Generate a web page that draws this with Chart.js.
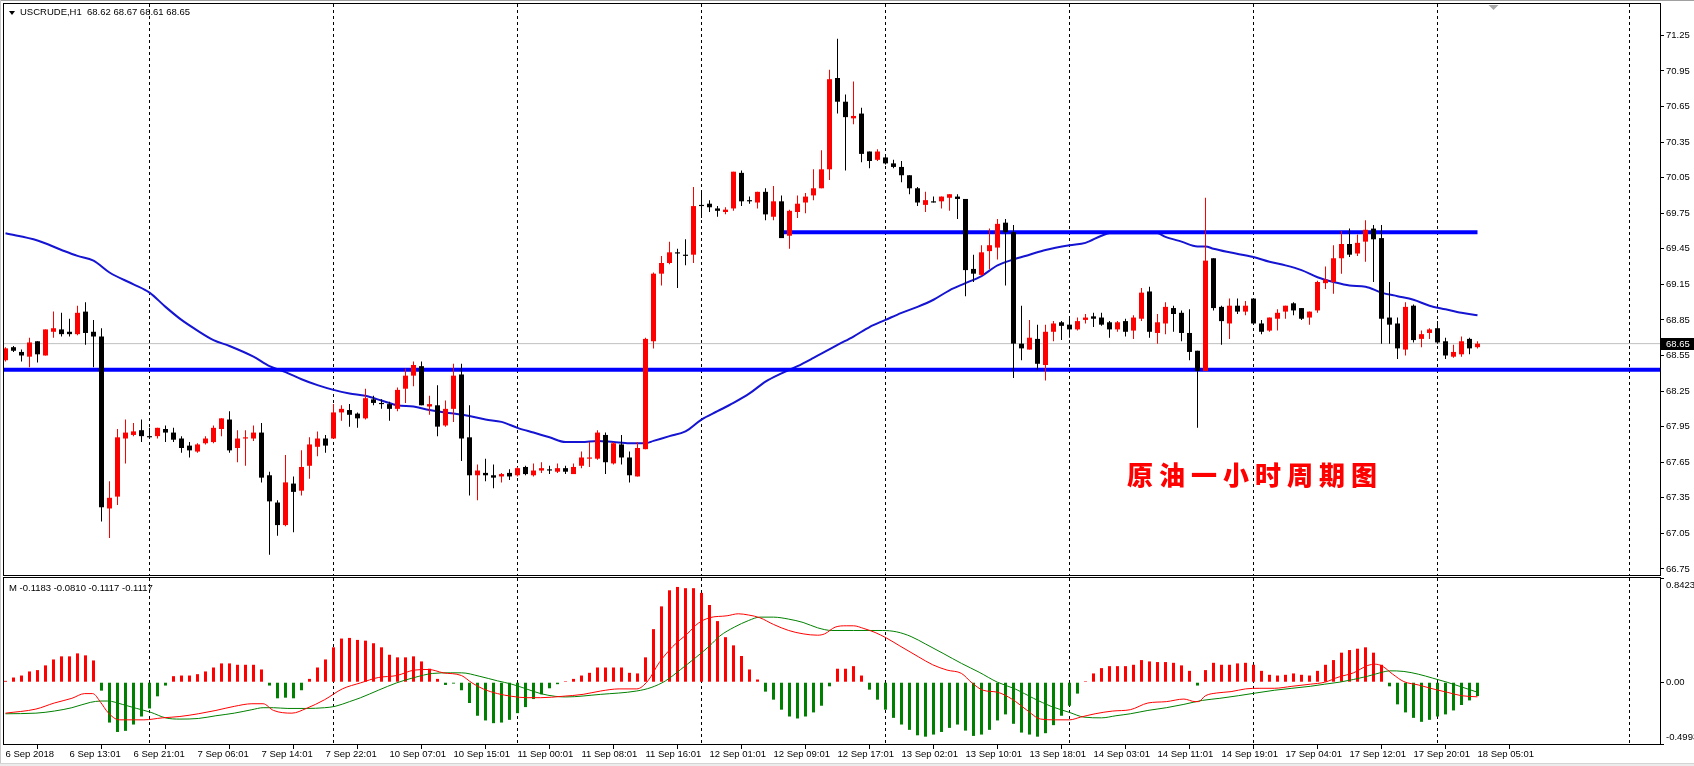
<!DOCTYPE html>
<html>
<head>
<meta charset="utf-8">
<script src="https://cdn.jsdelivr.net/npm/chart.js@4.4.0/dist/chart.umd.min.js"></script>
<style>
    body { margin: 0; width: 1694px; height: 766px; overflow: hidden; position: relative; background: #fff; font-family: "Liberation Sans", Arial, sans-serif; }
    canvas { position: absolute; left: 0; top: 0; }
    .hdr { position: absolute; font-size: 9.5px; line-height: 10px; color: #000; white-space: pre; }
    #winTop { position: absolute; left: 0; top: 0; width: 1694px; height: 1px; background: #a0a0a0; }
    #winLeft { position: absolute; left: 0; top: 0; width: 1px; height: 766px; background: #c8c8c8; }
    #winBottom { position: absolute; left: 0; top: 763px; width: 1694px; height: 3px; background: #ececec; border-top: 1px solid #d4d4d4; }
    #tri { position: absolute; left: 9px; top: 11px; width: 0; height: 0; border-left: 3.5px solid transparent; border-right: 3.5px solid transparent; border-top: 4px solid #000; }
    #note { position: absolute; left: 1127px; top: 461px; font-family: "Noto Sans CJK SC", sans-serif; font-weight: 900; font-size: 26px; line-height: 26px; letter-spacing: 6px; color: #ff0000; white-space: nowrap; }
</style>
</head>
<body>
<div id="winTop"></div>
<div id="winLeft"></div>
<div id="winBottom"></div>
<canvas id="priceChart" width="1694" height="766"></canvas>
<canvas id="macdChart" width="1694" height="766"></canvas>
<div id="tri"></div>
<div id="priceHeader" class="hdr" style="left:20px;top:7px;"></div>
<div id="macdHeader" class="hdr" style="left:9px;top:583px;"></div>
<div id="note">原油一小时周期图</div>
<script>
// --- data ---
const symbolName = "USCRUDE";
const timeframe = "H1";

const timeLabels = ["6 Sep 2018", "6 Sep 13:01", "6 Sep 21:01", "7 Sep 06:01", "7 Sep 14:01", "7 Sep 22:01",
    "10 Sep 07:01", "10 Sep 15:01", "11 Sep 00:01", "11 Sep 08:01", "11 Sep 16:01", "12 Sep 01:01",
    "12 Sep 09:01", "12 Sep 17:01", "13 Sep 02:01", "13 Sep 10:01", "13 Sep 18:01", "14 Sep 03:01",
    "14 Sep 11:01", "14 Sep 19:01", "17 Sep 04:01", "17 Sep 12:01", "17 Sep 20:01", "18 Sep 05:01"];

const openPrices = [
    68.51,68.62,68.58,68.54,68.67,68.55,68.75,68.77,68.75,68.73,
    68.92,68.75,68.71,67.26,67.36,67.85,67.88,67.92,67.87,67.87,
    67.93,67.90,67.85,67.79,67.74,67.81,67.82,67.93,68.01,67.77,
    67.85,67.85,67.90,67.54,67.31,67.12,67.47,67.41,67.62,67.78,
    67.85,67.85,68.07,68.09,68.06,68.02,68.18,68.15,68.14,68.10,
    68.27,68.38,68.46,68.12,68.13,67.96,68.10,68.39,67.86,67.54,
    67.56,67.54,67.53,67.56,67.54,67.61,67.54,67.58,67.59,67.57,
    67.60,67.55,67.62,67.68,67.68,67.88,67.64,67.80,67.69,67.53,
    67.76,68.67,69.24,69.33,69.42,69.40,69.40,69.82,69.83,69.79,
    69.76,69.79,70.09,69.86,69.84,69.93,69.72,69.85,69.56,69.76,
    69.84,69.90,69.96,70.12,70.89,70.69,70.55,70.59,70.27,70.20,
    70.22,70.17,70.14,70.07,69.96,69.82,69.85,69.85,69.88,69.89,
    69.87,69.28,69.23,69.43,69.46,69.67,69.59,68.65,68.60,68.69,
    68.47,68.75,68.83,68.81,68.77,68.85,68.88,68.87,68.83,68.77,
    68.84,68.76,68.86,69.09,68.74,68.82,68.95,68.91,68.74,68.59,
    68.42,69.37,68.96,68.82,68.97,68.92,69.03,68.82,68.76,68.86,
    68.92,68.99,68.95,68.87,68.93,69.16,69.17,69.37,69.49,69.41,
    69.51,69.62,69.54,68.87,68.82,68.60,68.97,68.69,68.74,68.78,
    68.67,68.54,68.56,68.69,68.62];
const highPrices = [
    68.62,68.63,68.60,68.70,68.67,68.77,68.92,68.91,68.86,68.97,
    69.00,68.85,68.78,67.49,67.93,68.01,67.98,68.01,67.94,67.94,
    67.96,67.94,67.87,67.82,67.81,67.87,67.96,68.02,68.08,67.92,
    67.92,67.96,67.98,67.57,67.33,67.71,67.53,67.75,67.86,67.91,
    67.88,68.14,68.13,68.14,68.07,68.27,68.21,68.18,68.16,68.28,
    68.44,68.50,68.50,68.21,68.30,68.17,68.48,68.48,68.13,67.63,
    67.68,67.63,67.56,67.59,67.61,67.62,67.64,67.65,67.62,67.64,
    67.62,67.64,67.74,67.82,67.92,67.90,67.82,67.88,67.74,67.82,
    68.70,69.25,69.39,69.51,69.45,69.53,69.97,69.92,69.86,69.81,
    69.80,70.10,70.11,69.89,69.93,69.96,69.98,69.90,69.78,69.90,
    69.92,70.12,70.28,70.96,71.22,70.75,70.86,70.64,70.27,70.29,
    70.23,70.20,70.19,70.07,69.97,69.93,69.89,69.89,69.91,69.91,
    69.87,69.40,69.48,69.62,69.70,69.70,69.65,68.97,68.85,68.81,
    68.81,68.84,68.84,68.86,68.87,68.90,68.91,68.91,68.84,68.84,
    68.86,68.89,69.12,69.13,68.90,69.00,68.97,68.93,68.94,68.59,
    69.88,69.37,68.97,69.03,69.03,69.01,69.03,68.85,68.87,68.94,
    68.97,69.00,68.95,68.92,69.18,69.30,69.48,69.60,69.62,69.57,
    69.69,69.65,69.65,69.17,68.87,69.00,68.98,68.76,68.78,68.84,
    68.70,68.64,68.71,68.70,68.67];
const lowPrices = [
    68.50,68.58,68.50,68.45,68.49,68.55,68.70,68.71,68.71,68.72,
    68.64,68.45,67.15,67.01,67.29,67.64,67.87,67.82,67.85,67.85,
    67.82,67.82,67.73,67.69,67.73,67.80,67.81,67.87,67.73,67.65,
    67.62,67.83,67.48,66.87,67.03,67.11,67.06,67.37,67.51,67.70,
    67.73,67.85,68.00,67.95,67.94,68.01,68.13,68.10,68.00,68.08,
    68.15,68.29,68.13,68.05,67.87,67.95,67.99,67.66,67.37,67.33,
    67.49,67.43,67.48,67.50,67.53,67.54,67.53,67.56,67.55,67.56,
    67.55,67.55,67.60,67.61,67.67,67.55,67.63,67.63,67.48,67.53,
    67.76,68.61,69.14,69.32,69.12,69.31,69.33,69.71,69.76,69.72,
    69.74,69.77,69.81,69.83,69.79,69.69,69.69,69.54,69.45,69.71,
    69.75,69.86,69.96,70.03,70.59,70.11,70.50,70.18,70.13,70.19,
    70.16,70.13,70.01,69.91,69.81,69.76,69.84,69.79,69.77,69.70,
    69.05,69.17,69.22,69.28,69.36,69.14,68.36,68.51,68.60,68.43,
    68.34,68.67,68.68,68.70,68.76,68.82,68.79,68.80,68.70,68.75,
    68.71,68.69,68.84,68.70,68.65,68.73,68.75,68.67,68.51,67.94,
    68.42,68.93,68.64,68.69,68.90,68.89,68.81,68.73,68.75,68.76,
    68.86,68.89,68.85,68.81,68.91,69.11,69.07,69.24,69.38,69.39,
    69.34,69.17,68.65,68.65,68.52,68.55,68.66,68.62,68.69,68.65,
    68.52,68.53,68.54,68.56,68.61];
const closePrices = [
    68.61,68.59,68.55,68.66,68.56,68.77,68.78,68.73,68.73,68.91,
    68.74,68.71,67.27,67.35,67.86,67.90,67.91,67.87,67.86,67.94,
    67.90,67.84,67.77,67.75,67.80,67.85,67.94,68.02,67.75,67.85,
    67.86,67.90,67.52,67.32,67.12,67.48,67.40,67.61,67.80,67.85,
    67.79,68.07,68.10,68.05,68.02,68.19,68.15,68.14,68.10,68.26,
    68.38,68.47,68.13,68.14,67.95,68.10,68.38,67.85,67.54,67.58,
    67.54,67.52,67.55,67.53,67.60,67.55,67.58,67.60,67.58,67.60,
    67.57,67.61,67.69,67.69,67.90,67.65,67.81,67.69,67.54,67.77,
    68.69,69.24,69.33,69.42,69.41,69.39,69.81,69.81,69.80,69.77,
    69.78,70.10,69.85,69.85,69.93,69.74,69.85,69.54,69.77,69.83,
    69.89,69.96,70.12,70.88,70.69,70.56,70.57,70.25,70.19,70.27,
    70.17,70.14,70.07,69.96,69.84,69.86,69.84,69.89,69.91,69.87,
    69.27,69.24,69.42,69.48,69.66,69.59,68.65,68.61,68.70,68.48,
    68.75,68.82,68.80,68.77,68.84,68.87,68.86,68.81,68.77,68.83,
    68.75,68.87,69.08,68.75,68.83,68.96,68.90,68.74,68.58,68.42,
    69.35,68.95,68.84,68.97,68.92,68.97,68.82,68.75,68.87,68.91,
    68.97,68.93,68.86,68.92,69.17,69.19,69.37,69.49,69.40,69.50,
    69.61,69.53,68.86,68.81,68.61,68.96,68.68,68.73,68.77,68.66,
    68.55,68.58,68.67,68.61,68.65];

// moving average, read at these bars
const maBars = [0,4,7,9,11,13,16,18,20,22,24,26,28,31,33,35,37,39,41,43,
    45,47,49,51,53,55,58,60,62,64,66,68,70,72,74,76,78,80,81,83,
    85,87,89,91,93,95,97,99,101,104,106,108,110,112,114,116,118,120,122,124,
    126,128,130,133,135,137,138,141,144,145,147,149,150,151,153,156,158,160,162,164,
    166,168,170,172,174,176,178,180,182,184];
const maValues = [69.58,69.52,69.44,69.39,69.35,69.25,69.15,69.08,68.96,68.85,
    68.76,68.68,68.63,68.54,68.46,68.41,68.35,68.30,68.26,68.23,
    68.21,68.17,68.13,68.12,68.09,68.07,68.04,68.01,67.99,67.94,
    67.90,67.86,67.82,67.82,67.83,67.82,67.81,67.81,67.83,67.87,
    67.91,68.01,68.08,68.15,68.23,68.33,68.40,68.46,68.53,68.64,
    68.71,68.79,68.85,68.91,68.96,69.02,69.10,69.16,69.22,69.31,
    69.36,69.40,69.44,69.48,69.50,69.56,69.58,69.58,69.58,69.55,
    69.51,69.47,69.47,69.45,69.42,69.38,69.34,69.31,69.27,69.21,
    69.17,69.14,69.13,69.08,69.05,69.02,68.97,68.94,68.91,68.89];

// hand drawn horizontal levels
const supportLevel = 68.43;
const resistanceLevel = 69.59;
const resistanceFrom = 97;
const resistanceTo = 184;

const priceTicks = [66.75, 67.05, 67.35, 67.65, 67.95, 68.25, 68.55, 68.85, 69.15, 69.45, 69.75, 70.05, 70.35, 70.65, 70.95, 71.25];

// MACD pane
const histValues = [
    0.011,0.038,0.054,0.087,0.098,0.136,0.184,0.209,0.209,0.233,
    0.217,0.176,-0.068,-0.326,-0.402,-0.393,-0.342,-0.277,-0.212,-0.114,
    -0.027,0.049,0.054,0.054,0.065,0.087,0.119,0.152,0.152,0.141,
    0.141,0.141,0.103,-0.027,-0.130,-0.125,-0.130,-0.065,0.027,0.119,
    0.184,0.282,0.353,0.358,0.342,0.336,0.315,0.282,0.222,0.201,
    0.201,0.209,0.168,0.109,0.027,-0.022,-0.011,-0.065,-0.168,-0.271,
    -0.309,-0.331,-0.326,-0.304,-0.250,-0.201,-0.136,-0.098,-0.049,-0.016,
    0.005,0.027,0.054,0.076,0.119,0.119,0.119,0.119,0.076,0.071,
    0.201,0.429,0.613,0.743,0.770,0.760,0.760,0.722,0.624,0.494,
    0.364,0.298,0.212,0.103,0.022,-0.076,-0.141,-0.222,-0.277,-0.293,
    -0.277,-0.244,-0.190,-0.033,0.109,0.109,0.130,0.054,-0.060,-0.141,
    -0.222,-0.288,-0.342,-0.385,-0.429,-0.440,-0.423,-0.402,-0.369,-0.342,
    -0.391,-0.434,-0.423,-0.385,-0.309,-0.260,-0.336,-0.407,-0.423,-0.440,
    -0.412,-0.347,-0.271,-0.190,-0.092,0.005,0.071,0.114,0.130,0.130,
    0.130,0.141,0.179,0.168,0.163,0.163,0.157,0.136,0.092,-0.027,
    0.098,0.157,0.141,0.141,0.152,0.157,0.141,0.092,0.060,0.054,
    0.060,0.071,0.060,0.054,0.092,0.141,0.179,0.239,0.260,0.271,
    0.282,0.239,0.141,-0.033,-0.179,-0.244,-0.288,-0.320,-0.304,-0.277,
    -0.260,-0.228,-0.184,-0.147,-0.112];

const macdRedBars = [0,3.8,6.1,8.3,9.9,10.9,11.9,12.8,14.2,17.3,19.6,21.8,24.1,26.3,28.6,30.8,32.2,33.5,35.8,37.6,
    39.9,42.1,44.4,46.6,48.9,51.1,52.9,54.7,57.0,58.3,59.7,61.5,63.3,65.1,66.9,69.6,72.2,74.4,76.7,78.9,
    80.3,81.7,83.4,85.3,86.6,88.0,90.2,91.6,92.9,94.3,96.0,97.9,99.7,101.5,102.4,103.7,105.1,106.0,107.3,108.7,
    110.1,111.8,114.1,115.9,117.7,119.5,120.8,122.2,124.0,125.8,127.6,129.4,131.2,133.0,134.4,136.2,138.4,140.6,142.8,145.1,
    147.3,148.7,149.1,150.0,151.4,153.2,155.0,156.8,158.6,160.8,163.1,164.9,166.7,168.5,170.3,171.2,172.1,173.4,174.8,176.6,
    178.8,180.2,182.0,184.0];
const macdRedValues = [-0.250,-0.217,-0.168,-0.130,-0.092,-0.092,-0.163,-0.244,-0.304,-0.304,-0.288,-0.277,-0.255,-0.228,-0.195,-0.174,-0.174,-0.228,-0.250,-0.212,
    -0.141,-0.054,-0.005,0.038,0.054,0.098,0.103,0.076,0.054,-0.005,-0.054,-0.092,-0.114,-0.125,-0.125,-0.114,-0.098,-0.071,-0.054,-0.054,
    0.011,0.157,0.288,0.396,0.477,0.521,0.537,0.553,0.543,0.521,0.467,0.418,0.391,0.380,0.391,0.445,0.456,0.456,0.434,0.402,
    0.358,0.293,0.206,0.141,0.098,0.071,-0.005,-0.065,-0.081,-0.136,-0.222,-0.298,-0.304,-0.304,-0.282,-0.255,-0.233,-0.222,-0.168,-0.157,
    -0.136,-0.157,-0.157,-0.109,-0.087,-0.076,-0.054,-0.049,-0.049,-0.033,-0.016,0.000,0.043,0.076,0.136,0.146,0.130,0.065,0.005,-0.022,
    -0.060,-0.081,-0.109,-0.118];

const macdGreenBars = [0,3.8,6.1,8.3,10.6,11.9,12.8,14.6,16.4,18.2,20.0,21.8,24.1,26.3,28.6,30.8,32.2,33.5,35.3,37.6,
    39.9,41.2,43.0,44.4,46.6,48.9,51.1,53.4,55.6,57.0,59.2,61.5,63.3,65.1,66.9,68.7,70.0,74.4,78.9,80.7,
    82.5,84.4,86.2,88.0,89.3,91.1,92.9,94.3,96.0,97.9,99.7,101.5,103.3,106.0,109.6,111.4,113.2,115.0,117.2,119.5,
    121.7,124.0,126.2,128.5,130.7,133.0,134.8,137.0,138.8,140.6,142.8,145.1,147.3,149.6,151.8,154.1,156.3,158.6,160.8,163.1,
    164.9,166.7,168.5,170.3,172.1,173.0,174.8,176.6,178.4,180.2,182.0,184.0];
const macdGreenValues = [-0.255,-0.250,-0.233,-0.206,-0.163,-0.152,-0.152,-0.179,-0.212,-0.244,-0.288,-0.298,-0.293,-0.271,-0.250,-0.222,-0.206,-0.206,-0.212,-0.212,
    -0.206,-0.195,-0.157,-0.125,-0.065,-0.005,0.038,0.071,0.076,0.076,0.049,0.011,-0.016,-0.054,-0.092,-0.114,-0.119,-0.098,-0.071,-0.043,
    0.011,0.103,0.195,0.293,0.374,0.445,0.499,0.526,0.526,0.510,0.483,0.440,0.418,0.418,0.418,0.407,0.369,0.309,0.233,0.152,
    0.081,0.000,-0.054,-0.130,-0.195,-0.244,-0.282,-0.288,-0.271,-0.255,-0.228,-0.206,-0.179,-0.147,-0.130,-0.109,-0.087,-0.065,-0.049,-0.033,
    -0.016,0.000,0.022,0.049,0.081,0.092,0.087,0.065,0.033,0.000,-0.038,-0.081];

const macdMin = -0.4993;
const macdMax = 0.8423;
const macdTicks = [-0.4993, 0, 0.8423];
const macdTickLabels = ["-0.4993", "0.00", "0.8423"];
const macdHeaderText = "M -0.1183 -0.0810 -0.1117 -0.1117";

// bars where the dotted day separators fall
const gridBars = [18, 41, 64, 87, 110, 133, 156, 179, 203];

// --- drawing ---
const FONT = "'Liberation Sans', Arial, sans-serif";
const FONT_SIZE = 9.5;
Chart.defaults.font.family = FONT;
Chart.defaults.font.size = FONT_SIZE;
Chart.defaults.color = "#000";

// 8 px per bar, first bar 1.5 px inside the left frame
const X_MIN = -0.1875;
const X_MAX = 206.8125;
const barIdx = closePrices.map((_, i) => i);
const labelBars = timeLabels.map((_, k) => k * 8);
const candleColors = barIdx.map(i => closePrices[i] >= openPrices[i] ? "#ff0000" : "#000000");
const lastBar = closePrices.length - 1;

// dotted separators + black frame round each pane
const paneFrame = {
    id: "paneFrame",
    beforeDatasetsDraw(chart) {
        const { ctx, chartArea: a, scales } = chart;
        ctx.save();
        ctx.strokeStyle = "#000";
        ctx.lineWidth = 1;
        ctx.setLineDash([3, 3]);
        gridBars.forEach(b => {
            const px = Math.floor(scales.x.getPixelForValue(b)) + 0.5;
            ctx.beginPath();
            ctx.moveTo(px, a.top);
            ctx.lineTo(px, a.bottom);
            ctx.stroke();
        });
        ctx.restore();
    },
    afterDraw(chart) {
        const { ctx, chartArea: a } = chart;
        ctx.save();
        ctx.strokeStyle = "#000";
        ctx.lineWidth = 1;
        ctx.strokeRect(a.left - 0.5, a.top - 0.5, a.right - a.left + 1, a.bottom - a.top + 1);
        ctx.restore();
    }
};

// black bid box on the price scale and the grey shift marker
const bidMarker = {
    id: "bidMarker",
    afterDraw(chart) {
        const { ctx, chartArea: a, scales } = chart;
        const bid = closePrices[lastBar];
        const py = Math.round(scales.y.getPixelForValue(bid));
        ctx.save();
        ctx.fillStyle = "#000";
        ctx.fillRect(a.right + 1, py - 6, 33, 12);
        ctx.fillStyle = "#fff";
        ctx.font = FONT_SIZE + "px " + FONT;
        ctx.textBaseline = "middle";
        ctx.fillText(bid.toFixed(2), a.right + 6, py);
        const sx = scales.x.getPixelForValue(lastBar + 2);
        ctx.fillStyle = "#a8a8a8";
        ctx.beginPath();
        ctx.moveTo(sx - 5, a.top + 1);
        ctx.lineTo(sx + 5, a.top + 1);
        ctx.lineTo(sx, a.top + 6);
        ctx.closePath();
        ctx.fill();
        ctx.restore();
    }
};

// MACD scale labels sit just inside the pane edges
const macdLabels = {
    id: "macdLabels",
    afterDraw(chart) {
        const { ctx, chartArea: a, scales } = chart;
        ctx.save();
        ctx.fillStyle = "#000";
        ctx.font = FONT_SIZE + "px " + FONT;
        ctx.textBaseline = "middle";
        macdTicks.forEach((v, k) => {
            let py = scales.y.getPixelForValue(v);
            if (v === macdMax) py += 7;
            if (v === macdMin) py -= 7;
            ctx.fillText(macdTickLabels[k], a.right + 6, py);
        });
        ctx.restore();
    }
};

const baseOptions = {
    animation: false,
    responsive: false,
    devicePixelRatio: 1,
    events: [],
    plugins: { legend: { display: false }, tooltip: { enabled: false } }
};

new Chart(document.getElementById("priceChart"), {
    type: "bar",
    data: {
        datasets: [
            {
                type: "bar",
                data: barIdx.map(i => ({ x: i, y: [openPrices[i], closePrices[i]] })),
                backgroundColor: candleColors,
                borderWidth: 0,
                barThickness: 5,
                maxBarThickness: 5,
                minBarLength: 1,
                grouped: false,
                inflateAmount: 0,
                order: 0
            },
            {
                type: "bar",
                data: barIdx.map(i => ({ x: i, y: [lowPrices[i], highPrices[i]] })),
                backgroundColor: candleColors,
                borderWidth: 0,
                barThickness: 1,
                maxBarThickness: 1,
                minBarLength: 1,
                grouped: false,
                inflateAmount: 0,
                order: 1
            },
            {
                type: "line",
                data: [{ x: X_MIN, y: supportLevel }, { x: X_MAX, y: supportLevel }],
                borderColor: "#0000ff",
                borderWidth: 4,
                pointRadius: 0,
                order: 2
            },
            {
                type: "line",
                data: [{ x: resistanceFrom, y: resistanceLevel }, { x: resistanceTo, y: resistanceLevel }],
                borderColor: "#0000ff",
                borderWidth: 4,
                pointRadius: 0,
                order: 2
            },
            {
                type: "line",
                data: maBars.map((b, k) => ({ x: b, y: maValues[k] })),
                borderColor: "#1414d2",
                borderWidth: 2,
                pointRadius: 0,
                cubicInterpolationMode: "monotone",
                order: 3
            },
            {
                type: "line",
                data: [{ x: X_MIN, y: closePrices[lastBar] }, { x: X_MAX, y: closePrices[lastBar] }],
                borderColor: "#c0c0c0",
                borderWidth: 1,
                pointRadius: 0,
                order: 4
            }
        ]
    },
    options: {
        ...baseOptions,
        layout: { padding: { left: 4, top: 4, right: 0, bottom: 191 } },
        scales: {
            x: { type: "linear", min: X_MIN, max: X_MAX, offset: false, display: false },
            y: {
                position: "right",
                min: 66.699,
                max: 71.514,
                afterBuildTicks: s => { s.ticks = priceTicks.map(v => ({ value: v })); },
                afterFit: s => { s.width = 34; s.paddingTop = 0; s.paddingBottom = 0; },
                grid: { drawOnChartArea: false, drawTicks: true, tickLength: 4, color: "#000" },
                border: { display: true, color: "#000" },
                ticks: { autoSkip: false, padding: 2, color: "#000", font: { size: FONT_SIZE }, callback: v => v.toFixed(2) }
            }
        }
    },
    plugins: [paneFrame, bidMarker]
});

new Chart(document.getElementById("macdChart"), {
    type: "bar",
    data: {
        datasets: [
            {
                type: "line",
                data: macdRedBars.map((b, k) => ({ x: b, y: macdRedValues[k] })),
                borderColor: "#ff0000",
                borderWidth: 1,
                pointRadius: 0,
                cubicInterpolationMode: "monotone",
                order: 0
            },
            {
                type: "line",
                data: macdGreenBars.map((b, k) => ({ x: b, y: macdGreenValues[k] })),
                borderColor: "#008000",
                borderWidth: 1,
                pointRadius: 0,
                cubicInterpolationMode: "monotone",
                order: 1
            },
            {
                type: "bar",
                data: histValues.map((v, i) => ({ x: i, y: v })),
                backgroundColor: histValues.map(v => v >= 0 ? "#ff0000" : "#008000"),
                borderWidth: 0,
                barThickness: 3,
                maxBarThickness: 3,
                minBarLength: 1,
                grouped: false,
                inflateAmount: 0,
                order: 2
            }
        ]
    },
    options: {
        ...baseOptions,
        layout: { padding: { left: 4, top: 578, right: 0, bottom: 0 } },
        scales: {
            x: {
                type: "linear",
                min: X_MIN,
                max: X_MAX,
                offset: false,
                afterBuildTicks: s => { s.ticks = labelBars.map(v => ({ value: v })); },
                afterFit: s => { s.height = 22; s.paddingLeft = 0; s.paddingRight = 0; },
                grid: { drawOnChartArea: false, drawTicks: true, tickLength: 5, color: "#000" },
                border: { display: true, color: "#000" },
                ticks: {
                    autoSkip: false,
                    maxRotation: 0,
                    align: "start",
                    padding: 0,
                    labelOffset: 0,
                    color: "#000",
                    font: { size: FONT_SIZE },
                    callback: v => timeLabels[labelBars.indexOf(v)]
                }
            },
            y: {
                position: "right",
                min: macdMin,
                max: macdMax,
                afterBuildTicks: s => { s.ticks = macdTicks.map(v => ({ value: v })); },
                afterFit: s => { s.width = 34; s.paddingTop = 0; s.paddingBottom = 0; },
                grid: { drawOnChartArea: false, drawTicks: true, tickLength: 4, color: "#000" },
                border: { display: true, color: "#000" },
                ticks: { display: false }
            }
        }
    },
    plugins: [paneFrame, macdLabels]
});

// header lines
document.getElementById("priceHeader").textContent = symbolName + "," + timeframe + "  " +
    [openPrices[lastBar], highPrices[lastBar], lowPrices[lastBar], closePrices[lastBar]].map(v => v.toFixed(2)).join(" ");
document.getElementById("macdHeader").textContent = macdHeaderText;
</script>
</body>
</html>
